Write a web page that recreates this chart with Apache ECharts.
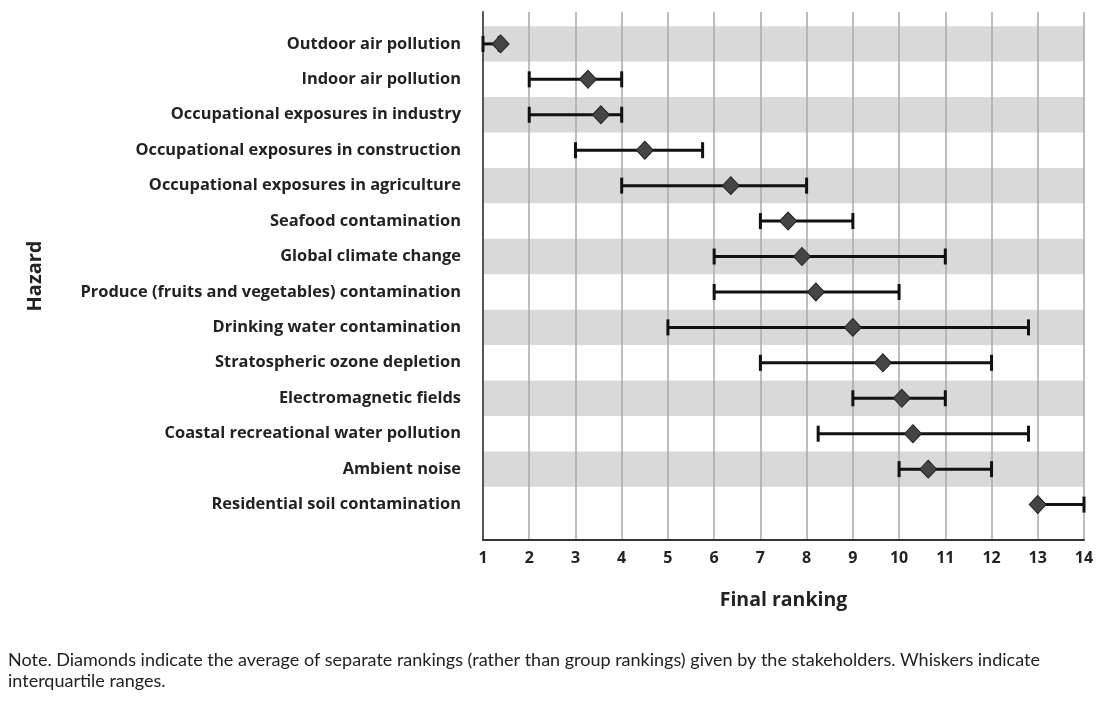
<!DOCTYPE html>
<html>
<head>
<meta charset="utf-8">
<script src="https://cdn.jsdelivr.net/npm/echarts@6/dist/echarts.min.js"></script>
<style>
  html, body { margin: 0; padding: 0; background: #ffffff; }
  #chart { width: 1117px; height: 711px; }
</style>
</head>
<body>
<div id="chart"></div>
<script>
const hazards = [
  "Outdoor air pollution",
  "Indoor air pollution",
  "Occupational exposures in industry",
  "Occupational exposures in construction",
  "Occupational exposures in agriculture",
  "Seafood contamination",
  "Global climate change",
  "Produce (fruits and vegetables) contamination",
  "Drinking water contamination",
  "Stratospheric ozone depletion",
  "Electromagnetic fields",
  "Coastal recreational water pollution",
  "Ambient noise",
  "Residential soil contamination"
];
const meanRank = [1.38, 3.27, 3.55, 4.5, 6.36, 7.6, 7.9, 8.2, 9.0, 9.65, 10.06, 10.3, 10.63, 13.0];
const q1 = [1, 2, 2, 3, 4, 7, 6, 6, 5, 7, 9, 8.25, 10, 13];
const q3 = [1.35, 4, 4, 5.75, 8, 9, 11, 10, 12.8, 12, 11, 12.8, 12, 14];
const xTicks = [1,2,3,4,5,6,7,8,9,10,11,12,13,14];
const noteText = "Note. Diamonds indicate the average of separate rankings (rather than group rankings) given by the stakeholders. Whiskers indicate\ninterquartile ranges.";

const rows = hazards.map((h, i) => i + 1);
const bandRows = rows.filter(r => r % 2 === 1);

const chart = echarts.init(document.getElementById('chart'), null, { renderer: 'canvas' });

const option = {
  animation: false,
  backgroundColor: '#ffffff',
  title: {
    text: noteText,
    left: 3,
    top: 645,
    textStyle: { fontFamily: 'Lato', fontSize: 18, fontWeight: 'normal', color: '#222', lineHeight: 21 }
  },
  grid: { left: 483, right: 33, top: 12, bottom: 171, containLabel: false },
  xAxis: {
    type: 'value',
    min: 1, max: 14, interval: 1,
    name: 'Final ranking',
    nameLocation: 'middle',
    nameGap: 50,
    nameTextStyle: { fontFamily: 'Open Sans', fontSize: 19.5, fontWeight: 'bold', color: '#222' },
    axisLine: { show: true, lineStyle: { color: '#333', width: 2 } },
    axisTick: { show: false },
    axisLabel: { fontFamily: 'Open Sans', fontSize: 16, fontWeight: 'bold', color: '#222', margin: 10,
      customValues: xTicks, formatter: v => String(v) },
    splitLine: { show: true, lineStyle: { color: '#a8a8a8', width: 1.5 } }
  },
  yAxis: {
    type: 'value',
    inverse: true,
    min: 0.1, max: 15,
    name: 'Hazard',
    nameLocation: 'middle',
    nameGap: 438,
    nameRotate: 90,
    nameTextStyle: { fontFamily: 'Open Sans', fontSize: 20, fontWeight: 'bold', color: '#222' },
    axisLine: { show: true, lineStyle: { color: '#555', width: 2 } },
    axisTick: { show: false },
    splitLine: { show: false },
    axisLabel: {
      customValues: rows,
      formatter: v => hazards[Math.round(v) - 1] || '',
      fontFamily: 'Open Sans', fontSize: 16.4, fontWeight: 'bold', color: '#222', margin: 22
    }
  },
  series: [
    {
      type: 'custom',
      name: 'bands',
      z: -1,
      silent: true,
      data: bandRows.map(r => [r]),
      encode: { y: 0 },
      renderItem: function (params, api) {
        const r = api.value(0);
        const top = api.coord([1, r - 0.5]);
        const bot = api.coord([1, r + 0.5]);
        const cs = params.coordSys;
        return {
          type: 'rect',
          shape: { x: cs.x + 1, y: top[1], width: cs.width - 1, height: bot[1] - top[1] },
          style: { fill: '#d9d9d9' }
        };
      }
    },
    {
      type: 'custom',
      name: 'IQR',
      z: 3,
      silent: true,
      data: rows.map((r, i) => [q1[i], q3[i], r]),
      encode: { x: [0, 1], y: 2 },
      renderItem: function (params, api) {
        const a = api.coord([api.value(0), api.value(2)]);
        const b = api.coord([api.value(1), api.value(2)]);
        const h = 8;
        const st = { stroke: '#111', lineWidth: 3 };
        return {
          type: 'group',
          children: [
            { type: 'line', shape: { x1: a[0], y1: a[1], x2: b[0], y2: b[1] }, style: st },
            { type: 'line', shape: { x1: a[0], y1: a[1] - h, x2: a[0], y2: a[1] + h }, style: st },
            { type: 'line', shape: { x1: b[0], y1: b[1] - h, x2: b[0], y2: b[1] + h }, style: st }
          ]
        };
      }
    },
    {
      type: 'scatter',
      name: 'Mean',
      z: 5,
      symbol: 'diamond',
      symbolSize: [17, 18],
      itemStyle: { color: '#454545', borderColor: '#222', borderWidth: 1, opacity: 1 },
      data: rows.map((r, i) => [meanRank[i], r])
    }
  ]
};
chart.setOption(option);
</script>
</body>
</html>
